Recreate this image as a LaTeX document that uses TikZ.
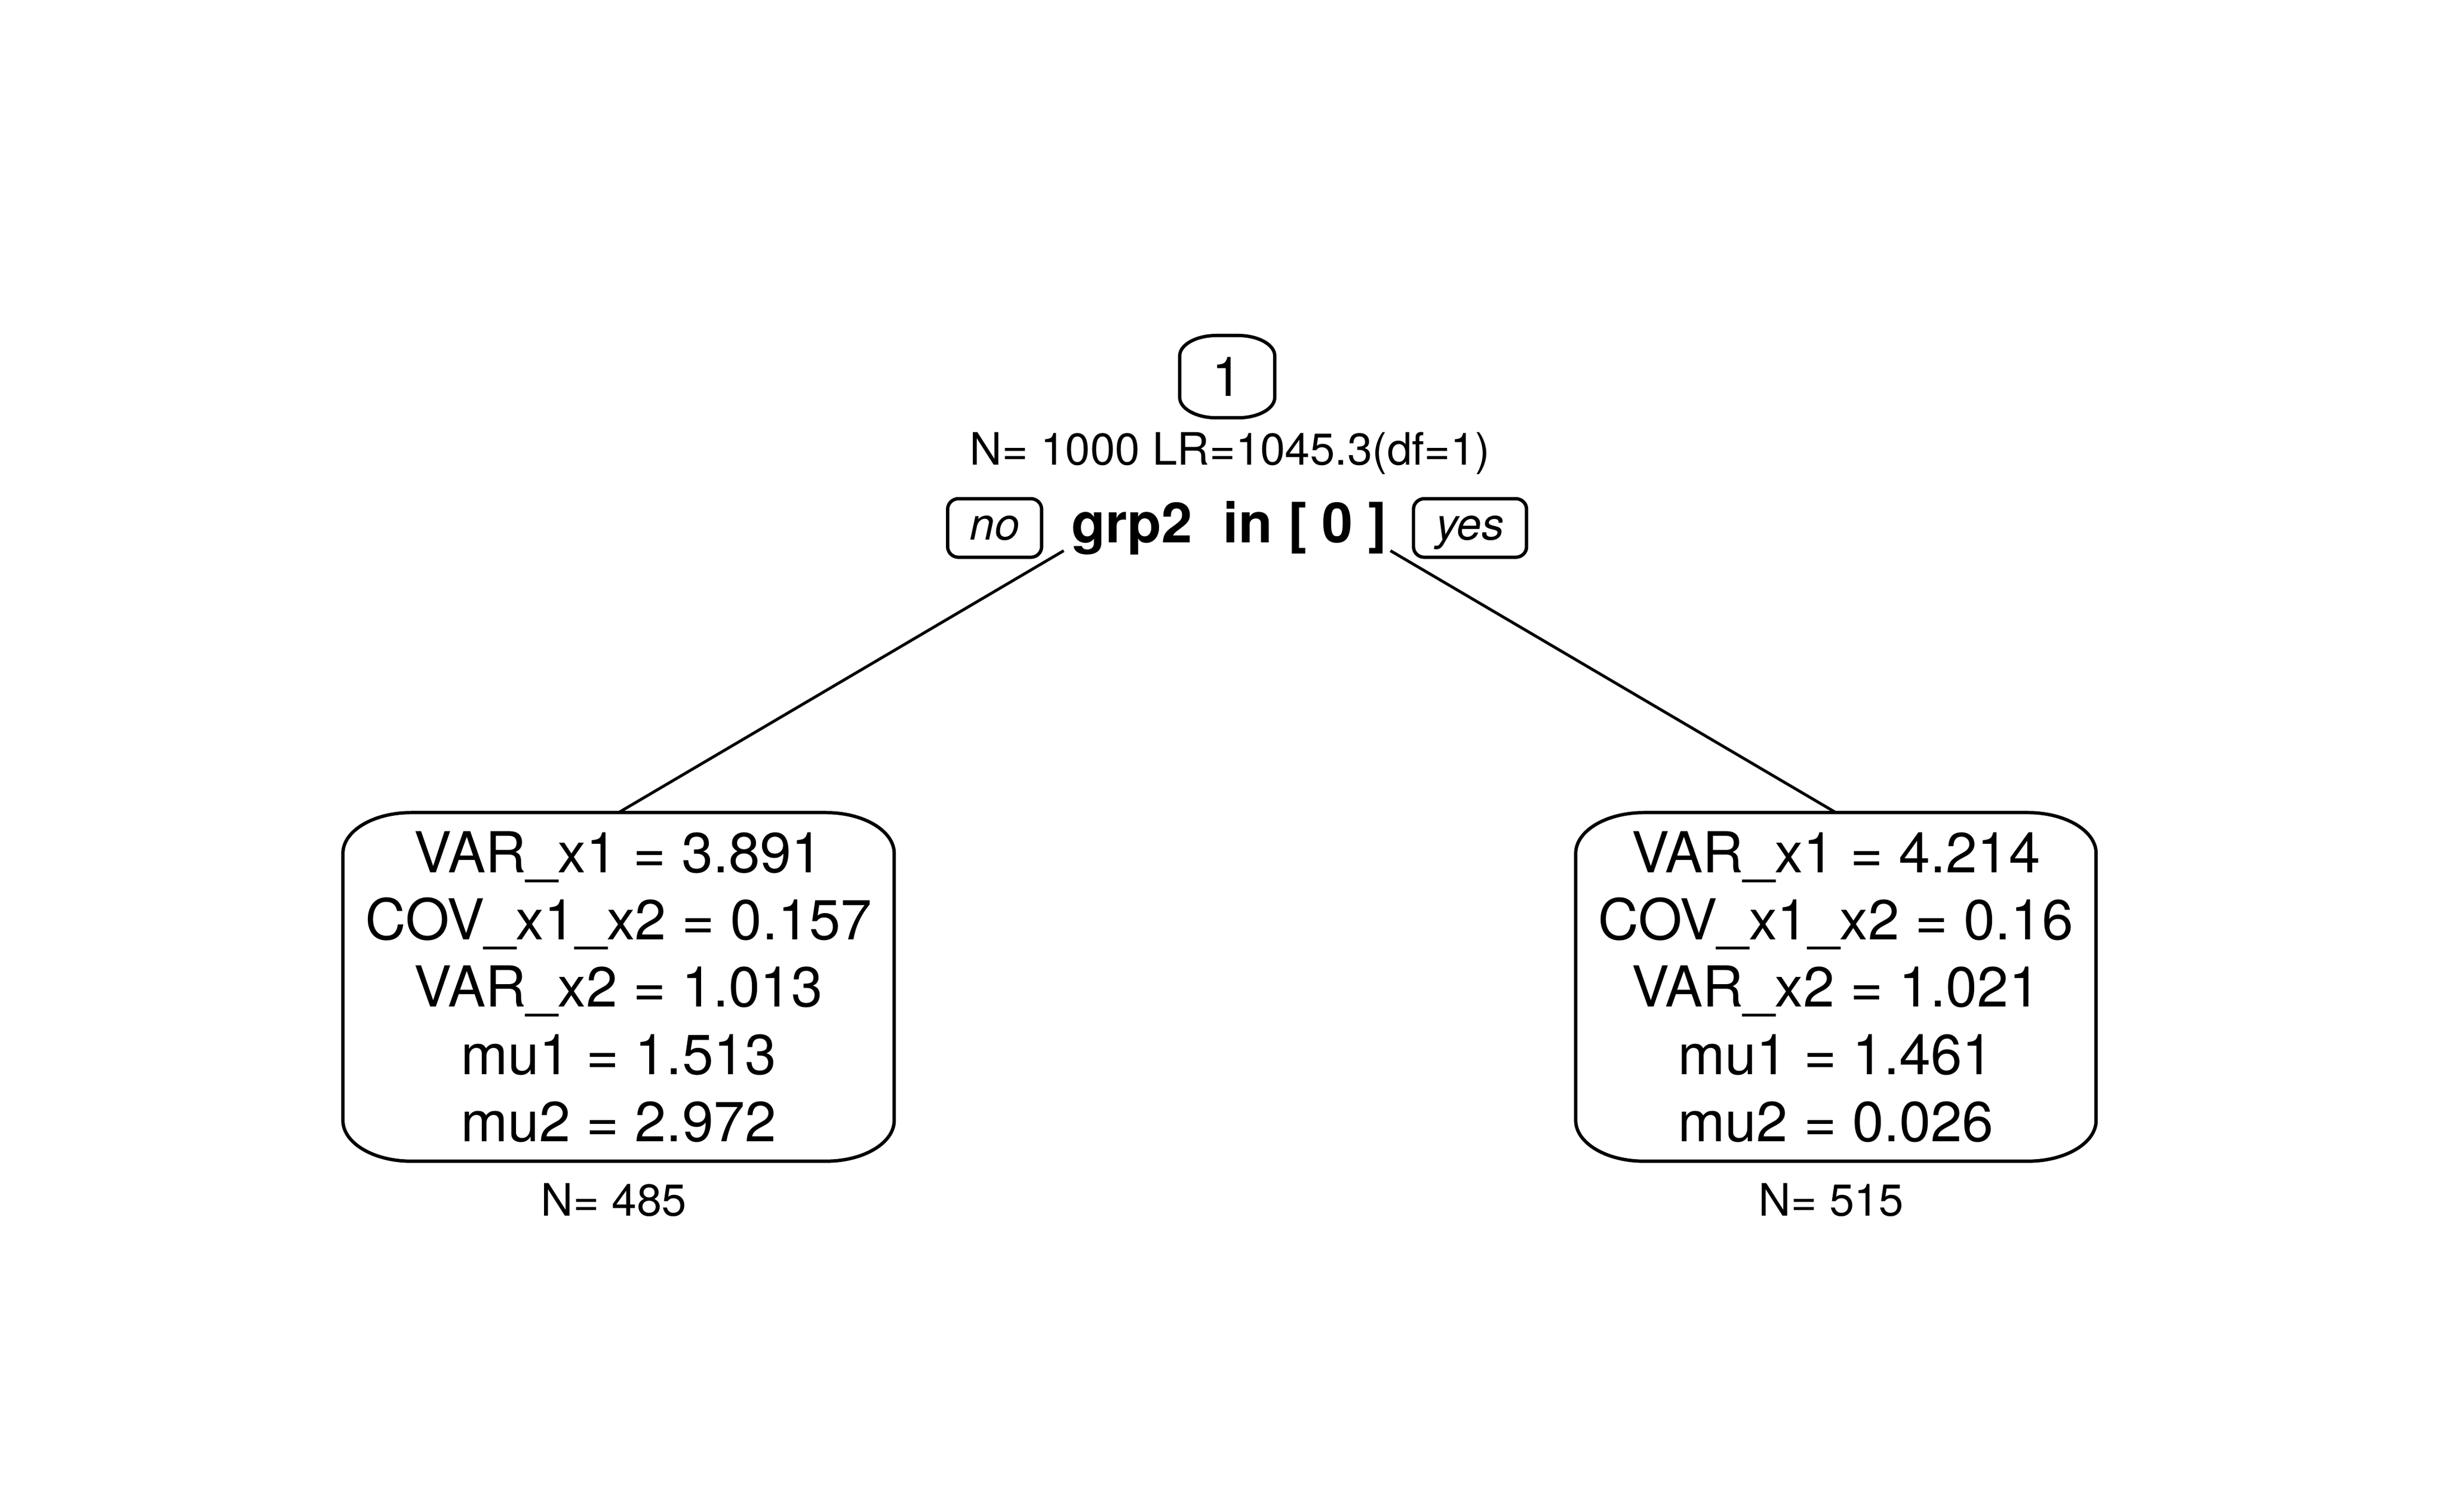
\documentclass[tikz,border=0pt]{standalone}
\usepackage{fontspec}
\setmainfont{TeX Gyre Heros}
\newcommand\rframe[3]{%
  \draw[frameline] ([yshift=-#3]#1.north west) arc[start angle=180,end angle=90,x radius=#2,y radius=#3]
    -- ([xshift=-#2]#1.north east) arc[start angle=90,end angle=0,x radius=#2,y radius=#3]
    -- ([yshift=#3]#1.south east) arc[start angle=0,end angle=-90,x radius=#2,y radius=#3]
    -- ([xshift=#2]#1.south west) arc[start angle=270,end angle=180,x radius=#2,y radius=#3]
    -- cycle;}
\begin{document}
\begin{tikzpicture}[x=0.3pt,y=0.3pt,
  frameline/.style={line width=0.64pt},
  edgeline/.style={line width=0.55pt},
  plainbox/.style={inner sep=0pt,outer sep=0pt,rectangle},
  leafbox/.style={plainbox,align=center,font=\fontsize{10.8}{12.84}\selectfont,minimum height=66.69pt},
  idbox/.style={plainbox,font=\fontsize{10.5}{12.6}\selectfont,minimum width=18.18pt,minimum height=15.75pt},
  lblbox/.style={plainbox,font=\fontsize{8.55}{10.2}\selectfont\itshape,minimum height=11.22pt,text height=4.65pt,text depth=0pt},
  smalltext/.style={inner sep=0pt,outer sep=0pt,anchor=base,font=\fontsize{8.55}{10.2}\selectfont},
  condtext/.style={inner sep=0pt,outer sep=0pt,anchor=base,font=\fontsize{10.65}{12.8}\selectfont\bfseries}]
\useasboundingbox (0,0) rectangle (1560,964);
% root node
\node[idbox] (n1) at (782.7,723.8) {1};
\rframe{n1}{7.05pt}{3.9pt}
\node[smalltext] (n1stat) at (784.5,667.5) {N= 1000 LR=1045.3(df=1)};
\node[lblbox,minimum width=17.97pt] (nolbl) at (634.35,627.3) {no};
\rframe{nolbl}{2.1pt}{2.0pt}
\node[lblbox,minimum width=21.63pt] (yeslbl) at (937.55,627.3) {yes};
\rframe{yeslbl}{2.1pt}{2.0pt}
\node[condtext] (n1cond) at (784.1,618.1) {grp2~~in [ 0 ]};
% leaves
\node[leafbox,minimum width=105.48pt] (n2) at (394.5,334.65)
  {VAR\_x1 = 3.891\\COV\_x1\_x2 = 0.157\\VAR\_x2 = 1.013\\mu1 = 1.513\\mu2 = 2.972};
\rframe{n2}{13.05pt}{7.8pt}
\node[leafbox,minimum width=99.57pt] (n3) at (1170.9,334.65)
  {VAR\_x1 = 4.214\\COV\_x1\_x2 = 0.16\\VAR\_x2 = 1.021\\mu1 = 1.461\\mu2 = 0.026};
\rframe{n3}{13.05pt}{7.8pt}
\node[smalltext] (n2n) at (391.5,188.5) {N= 485};
\node[smalltext] (n3n) at (1167.9,188.5) {N= 515};
% edges
\coordinate (e1) at (678.4,612.8);
\coordinate (e2) at (886.8,612.8);
\draw[edgeline] (e1) -- (n2.north);
\draw[edgeline] (e2) -- (n3.north);
\end{tikzpicture}
\end{document}
